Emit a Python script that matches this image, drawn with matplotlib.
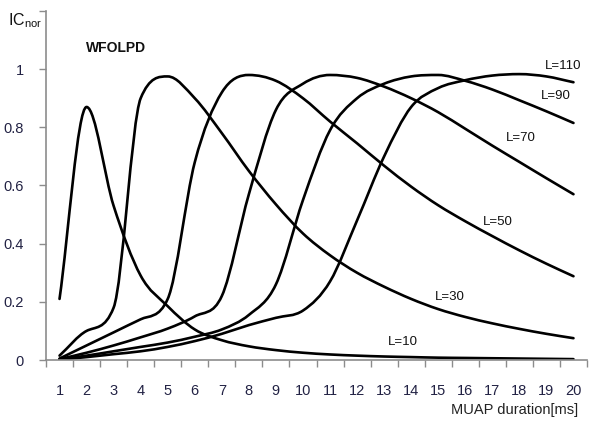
import numpy as np
import matplotlib
matplotlib.use("Agg")
import matplotlib.pyplot as plt
from matplotlib.path import Path
from matplotlib.patches import PathPatch

plt.rcParams['font.family'] = ['Liberation Sans', 'DejaVu Sans']

durations = list(range(1, 21))
x_labels = [str(d) for d in durations]

L10 = [0.21, 0.87, 0.53, 0.29, 0.185, 0.105, 0.068, 0.047, 0.034, 0.025,
       0.019, 0.015, 0.012, 0.010, 0.008, 0.007, 0.006, 0.005, 0.004, 0.003]
L30 = [0.015, 0.10, 0.18, 0.90, 0.975, 0.90, 0.78, 0.65, 0.535, 0.435,
       0.36, 0.30, 0.252, 0.21, 0.175, 0.148, 0.126, 0.107, 0.09, 0.075]
L50 = [0.005, 0.05, 0.095, 0.14, 0.21, 0.68, 0.92, 0.98, 0.96, 0.90,
       0.82, 0.745, 0.668, 0.596, 0.532, 0.477, 0.426, 0.377, 0.331, 0.288]
L70 = [0.003, 0.025, 0.05, 0.078, 0.108, 0.15, 0.22, 0.57, 0.86, 0.95,
       0.98, 0.97, 0.94, 0.90, 0.852, 0.795, 0.737, 0.681, 0.625, 0.57]
L90 = [0.002, 0.015, 0.03, 0.045, 0.06, 0.08, 0.105, 0.155, 0.26, 0.55,
       0.79, 0.90, 0.95, 0.975, 0.98, 0.96, 0.93, 0.893, 0.855, 0.815]
L110 = [0.001, 0.01, 0.02, 0.03, 0.045, 0.065, 0.09, 0.12, 0.145, 0.17,
        0.27, 0.48, 0.70, 0.87, 0.935, 0.962, 0.978, 0.983, 0.975, 0.955]

series = [("L=10", L10), ("L=30", L30), ("L=50", L50),
          ("L=70", L70), ("L=90", L90), ("L=110", L110)]

label_pos = {"L=110": (19.6, 1.01), "L=90": (19.34, 0.907), "L=70": (18.04, 0.762),
             "L=50": (17.19, 0.476), "L=30": (15.42, 0.217), "L=10": (13.68, 0.062)}


def smooth_path(xs, ys):
    """Monotone cubic (Fritsch-Carlson) drawn as Bezier curve segments."""
    xs = np.asarray(xs, float)
    ys = np.asarray(ys, float)
    n = len(xs)
    h = np.diff(xs)
    d = np.diff(ys) / h
    m = np.zeros(n)
    m[0] = d[0]
    m[-1] = d[-1]
    for i in range(1, n - 1):
        if d[i - 1] * d[i] <= 0:
            m[i] = 0.0
        else:
            m[i] = (d[i - 1] + d[i]) / 2
    for k in range(n - 1):
        if d[k] == 0:
            m[k] = m[k + 1] = 0
            continue
        a = m[k] / d[k]
        b = m[k + 1] / d[k]
        s = a * a + b * b
        if s > 9:
            t = 3 / np.sqrt(s)
            m[k] = t * a * d[k]
            m[k + 1] = t * b * d[k]
    verts = [(xs[0], ys[0])]
    codes = [Path.MOVETO]
    for k in range(n - 1):
        c1 = (xs[k] + h[k] / 3, ys[k] + m[k] * h[k] / 3)
        c2 = (xs[k + 1] - h[k] / 3, ys[k + 1] - m[k + 1] * h[k] / 3)
        verts += [c1, c2, (xs[k + 1], ys[k + 1])]
        codes += [Path.CURVE4] * 3
    return Path(verts, codes)


fig = plt.figure(figsize=(5.89, 4.21), dpi=100)
ax = fig.add_axes([46 / 589, 1 - 360 / 421, 541 / 589, 349 / 421])

for name, vals in series:
    p = smooth_path(durations, vals)
    ax.add_patch(PathPatch(p, fill=False, edgecolor='black', lw=1.9,
                           capstyle='round', joinstyle='round'))
    tx, ty = label_pos[name]
    ax.text(tx, ty, name, ha='center', va='center', fontsize=9.5, color='#111111')

ax.set_xlim(0.5, 20.5)
ax.set_ylim(0, 1.2)

ax.set_xticks(durations)
ax.set_xticklabels(x_labels)
ax.set_xticks(np.arange(0.5, 20.6, 1.0), minor=True)
ax.tick_params(axis='x', which='major', length=0, pad=17, labelsize=10.5, labelcolor='#222244')
ax.tick_params(axis='x', which='minor', length=5, width=1, color='#8c8c8c', direction='out')

ax.set_yticks([0, 0.2, 0.4, 0.6, 0.8, 1.0, 1.2])
ax.set_yticklabels(['0', '0.2', '0.4', '0.6', '0.8', '1', ''])
ax.tick_params(axis='y', length=5, width=1, color='#8c8c8c', direction='out', pad=11,
               labelsize=10.5, labelcolor='#222244')

for s in ['top', 'right']:
    ax.spines[s].set_visible(False)
for s in ['left', 'bottom']:
    ax.spines[s].set_color('#8c8c8c')
    ax.spines[s].set_linewidth(1.2)

fig.text(8 / 589, 1 - 11 / 421, r'IC$_{\mathregular{nor}}$', ha='left', va='top', fontsize=11.5, color='#111111')
fig.text(86 / 589, 1 - 48 / 421, 'WFOLPD', ha='left', va='center', fontsize=10, fontweight='bold', color='#111111')
fig.text(578 / 589, 1 - 410 / 421, 'MUAP duration[ms]', ha='right', va='center', fontsize=10.5, color='#222222')

fig.savefig('out.png', dpi=100)
